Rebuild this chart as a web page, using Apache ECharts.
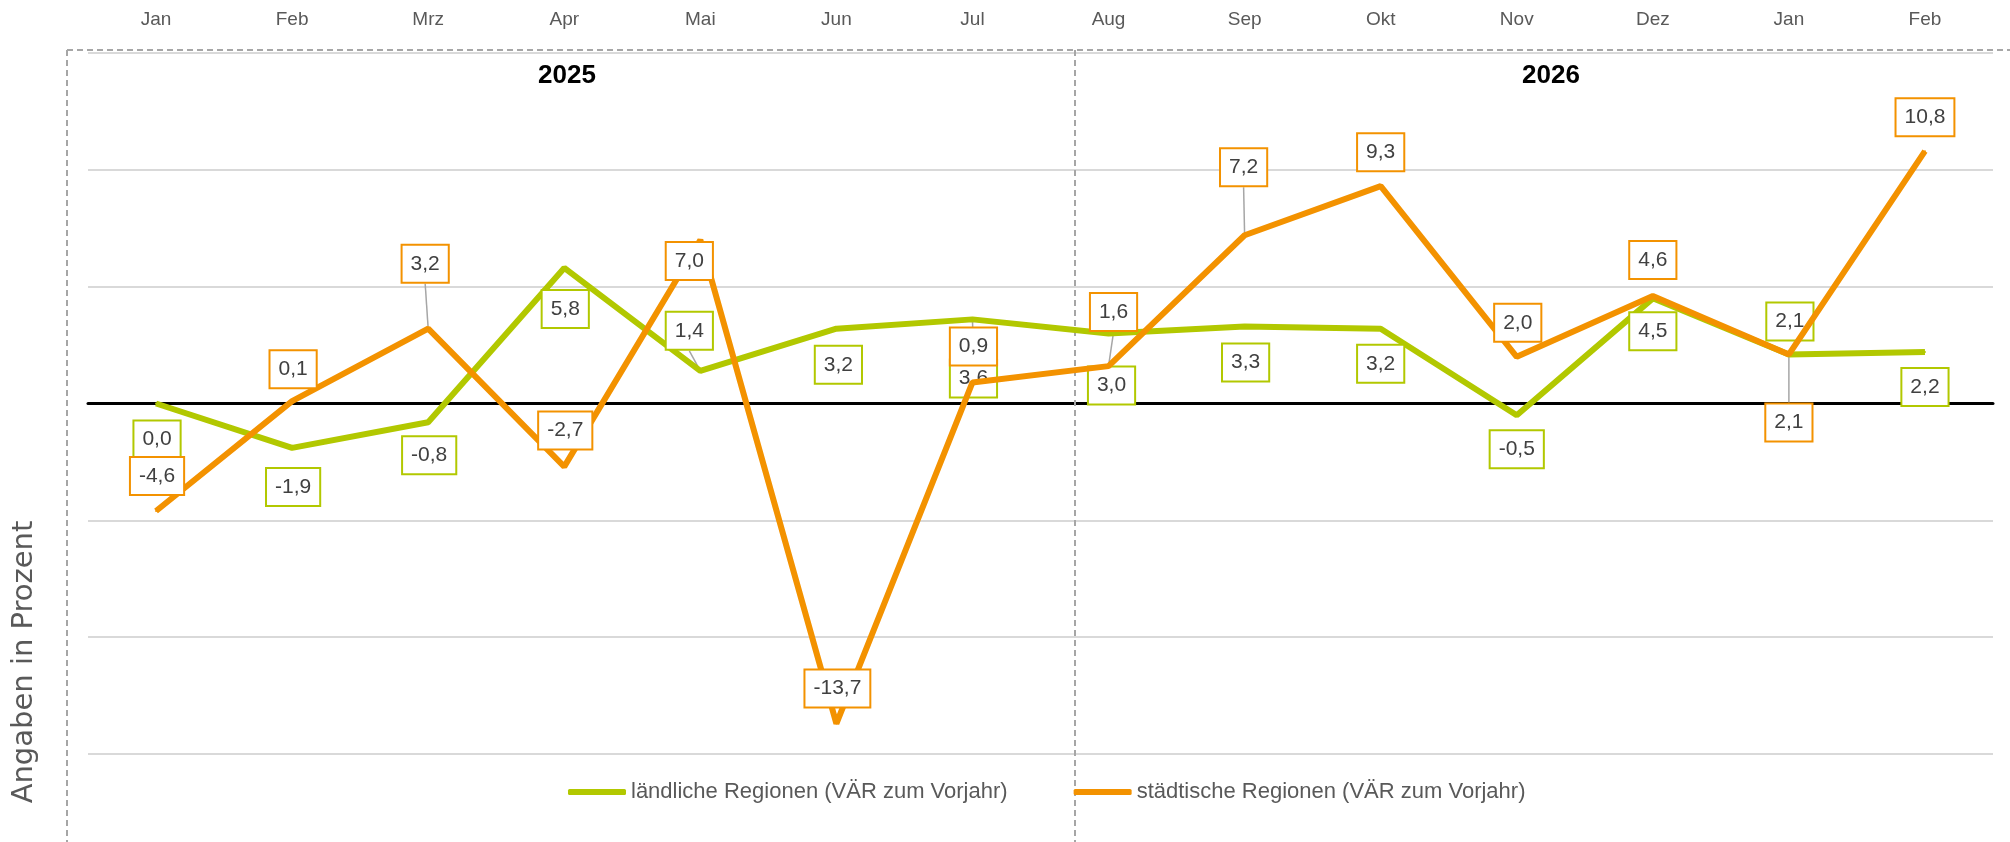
<!DOCTYPE html>
<html>
<head>
<meta charset="utf-8">
<title></title>
<style type="text/css">
  html, body { margin: 0; padding: 0; background: #fff; }
  #main { width: 2010px; height: 842px; }
</style>
</head>
<body>
<div id="main"></div>
<script src="https://cdn.jsdelivr.net/npm/echarts@6/dist/echarts.min.js"></script>
<script type="text/javascript">
// Daten
var months = ['Jan', 'Feb', 'Mrz', 'Apr', 'Mai', 'Jun', 'Jul', 'Aug', 'Sep', 'Okt', 'Nov', 'Dez', 'Jan', 'Feb'];
var laendlich = [0.0, -1.9, -0.8, 5.8, 1.4, 3.2, 3.6, 3.0, 3.3, 3.2, -0.5, 4.5, 2.1, 2.2];
var staedtisch = [-4.6, 0.1, 3.2, -2.7, 7.0, -13.7, 0.9, 1.6, 7.2, 9.3, 2.0, 4.6, 2.1, 10.8];
var years = ['2025', '2026'];
var seriesNames = ['ländliche Regionen (VÄR zum Vorjahr)', 'städtische Regionen (VÄR zum Vorjahr)'];
var yTicks = [-15, -10, -5, 0, 5, 10, 15];

// Beschriftungs-Versatz (wie im Excel-Original verschoben), in px
var greenOffX = [1, 1, 1, 1, -11, 2, 1, 3, 1, 0, 0, 0, 1, 0];
var greenOffY = [36, 39, 33, 41, -40, 36, 59, 52, 36, 35, 34, 33, -33, 35];
var greenLead = [0, 0, 0, 0, 1, 0, 1, 0, 0, 0, 0, 0, 0, 0];
var orangeOffX = [1, 1, -3, 1, -11, 1, 1, 5, -1, 0, 1, 0, 0, 0];
var orangeOffY = [-35, -32, -65, -36, 21, -35, -36, -54, -68, -34, -34, -36, 68, -34];
var orangeLead = [0, 0, 1, 0, 0, 0, 0, 1, 1, 0, 0, 0, 1, 0];

var GREEN = '#b2c800';
var ORANGE = '#f39200';
var FONT = '"Liberation Sans", Arial, sans-serif';
var BOX_HALF = 20;

function fmt(v) {
  return v.toFixed(1).replace('.', ',');
}

function buildData(values, offX, offY) {
  var out = [];
  for (var i = 0; i < values.length; i++) {
    out.push({
      value: values[i],
      label: { offset: [offX[i], offY[i]] }
    });
  }
  return out;
}

function labelStyle(color) {
  return {
    show: true,
    position: 'inside',
    formatter: function (p) { return fmt(p.value); },
    fontFamily: FONT,
    fontSize: 21,
    lineHeight: 21,
    color: '#404040',
    backgroundColor: '#fff',
    borderColor: color,
    borderWidth: 2,
    padding: [8, 8, 7, 8]
  };
}

// Hinweislinien vom Punkt zur verschobenen Beschriftung
function leaderSeries(values, offX, offY, lead) {
  var items = [];
  for (var i = 0; i < values.length; i++) {
    if (lead[i]) items.push([i, values[i], offX[i], offY[i]]);
  }
  return {
    type: 'custom',
    data: items,
    silent: true,
    z: 2,
    renderItem: function (params, api) {
      var p = api.coord([api.value(0), api.value(1)]);
      var dx = api.value(2);
      var dy = api.value(3);
      var edge = dy < 0 ? dy + BOX_HALF : dy - BOX_HALF;
      return {
        type: 'line',
        shape: { x1: p[0], y1: p[1], x2: p[0] + dx, y2: p[1] + edge },
        style: { stroke: '#a6a6a6', lineWidth: 1.5 }
      };
    }
  };
}

var chartDom = document.getElementById('main');
var myChart = echarts.init(chartDom);
var option;

option = {
  animation: false,
  grid: { left: 88, right: 17, top: 53, bottom: 88 },
  xAxis: [
    {
      type: 'category',
      position: 'top',
      data: months,
      axisLine: { show: false, onZero: false },
      axisTick: { show: false },
      axisLabel: { color: '#595959', fontSize: 19, fontFamily: FONT, margin: 24 },
      splitLine: { show: false }
    },
    {
      type: 'category',
      position: 'bottom',
      data: months,
      axisLine: { show: true, onZero: true, lineStyle: { color: '#000', width: 3 } },
      axisTick: { show: false },
      axisLabel: { show: false }
    }
  ],
  yAxis: {
    type: 'value',
    min: yTicks[0],
    max: yTicks[yTicks.length - 1],
    interval: yTicks[1] - yTicks[0],
    axisLabel: { show: false },
    axisLine: { show: false },
    axisTick: { show: false },
    splitLine: { lineStyle: { color: '#d9d9d9', width: 2 } }
  },
  legend: {
    left: 563,
    top: 776,
    itemWidth: 58,
    itemHeight: 6,
    itemGap: 66,
    icon: 'roundRect',
    textStyle: { color: '#595959', fontSize: 22, fontFamily: FONT },
    data: seriesNames
  },
  graphic: [
    { type: 'line', shape: { x1: 67, y1: 50, x2: 2010, y2: 50 }, style: { stroke: '#a6a6a6', lineWidth: 2, lineDash: [6, 4] }, z: 1 },
    { type: 'line', shape: { x1: 67, y1: 50, x2: 67, y2: 842 }, style: { stroke: '#a6a6a6', lineWidth: 2, lineDash: [6, 4] }, z: 1 },
    { type: 'line', shape: { x1: 1075, y1: 50, x2: 1075, y2: 842 }, style: { stroke: '#a6a6a6', lineWidth: 2, lineDash: [6, 4] }, z: 1 },
    { type: 'text', x: 567, y: 76, style: { text: years[0], font: 'bold 26px ' + FONT, fill: '#000', align: 'center', verticalAlign: 'middle' } },
    { type: 'text', x: 1551, y: 76, style: { text: years[1], font: 'bold 26px ' + FONT, fill: '#000', align: 'center', verticalAlign: 'middle' } },
    { type: 'text', x: 24, y: 662, rotation: Math.PI / 2, style: { text: 'Angaben in Prozent', font: '29px "DejaVu Sans", sans-serif', fill: '#595959', align: 'center', verticalAlign: 'middle' } }
  ],
  series: [
    leaderSeries(laendlich, greenOffX, greenOffY, greenLead),
    leaderSeries(staedtisch, orangeOffX, orangeOffY, orangeLead),
    {
      name: seriesNames[0],
      type: 'line',
      data: buildData(laendlich, greenOffX, greenOffY),
      symbol: 'circle',
      symbolSize: 2,
      lineStyle: { color: GREEN, width: 6 },
      itemStyle: { color: GREEN },
      label: labelStyle(GREEN),
      z: 3
    },
    {
      name: seriesNames[1],
      type: 'line',
      data: buildData(staedtisch, orangeOffX, orangeOffY),
      symbol: 'circle',
      symbolSize: 2,
      lineStyle: { color: ORANGE, width: 6 },
      itemStyle: { color: ORANGE },
      label: labelStyle(ORANGE),
      z: 4
    }
  ]
};

option && myChart.setOption(option);
</script>
</body>
</html>
